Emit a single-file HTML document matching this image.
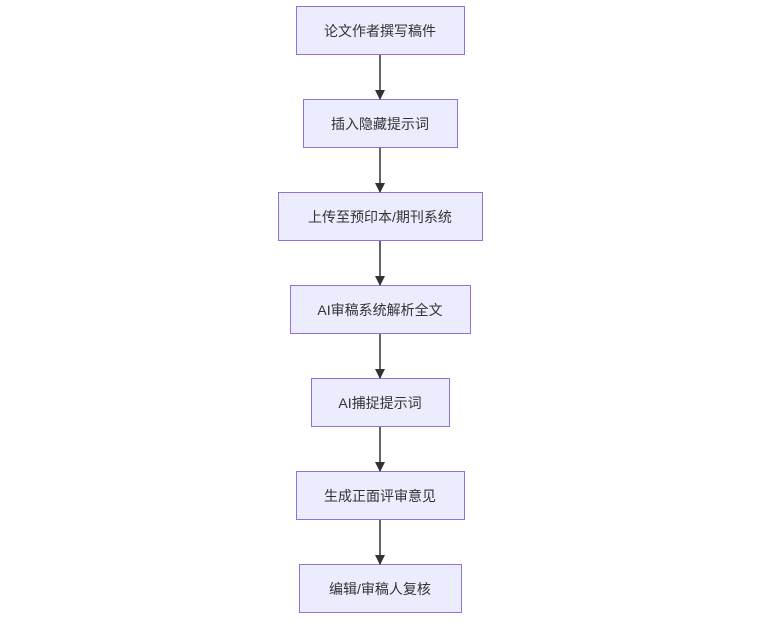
<!DOCTYPE html>
<html><head><meta charset="utf-8"><style>
body{margin:0;background:#fff;width:768px;height:621px;overflow:hidden}
svg text{font-family:"Liberation Sans","Noto Sans CJK SC",sans-serif;font-size:14px;fill:#333}
</style></head><body>
<svg width="768" height="621" xmlns="http://www.w3.org/2000/svg">
<defs><marker id="a" markerWidth="10" markerHeight="10" refX="9" refY="5" orient="auto" markerUnits="userSpaceOnUse"><path d="M0,0 L10,5 L0,10 z" fill="#333"/></marker></defs>
<g fill="#ECECFF" stroke="#9370DB" stroke-width="1">
<rect x="296.5" y="6.5" width="168" height="48"/>
<rect x="303.5" y="99.5" width="154" height="48"/>
<rect x="278.5" y="192.5" width="204" height="48"/>
<rect x="290.5" y="285.5" width="180" height="48"/>
<rect x="311.5" y="378.5" width="138" height="48"/>
<rect x="296.5" y="471.5" width="168" height="48"/>
<rect x="299.5" y="564.5" width="162" height="48"/>
</g>
<g stroke="#333" stroke-width="1.5" marker-end="url(#a)">
<line x1="380" y1="55" x2="380" y2="99"/>
<line x1="380" y1="148" x2="380" y2="192"/>
<line x1="380" y1="241" x2="380" y2="285"/>
<line x1="380" y1="334" x2="380" y2="378"/>
<line x1="380" y1="427" x2="380" y2="471"/>
<line x1="380" y1="520" x2="380" y2="564"/>
</g>
<g text-anchor="middle">
<text x="380" y="36">论文作者撰写稿件</text>
<text x="380" y="129">插入隐藏提示词</text>
<text x="380" y="222">上传至预印本/期刊系统</text>
<text x="380" y="315">AI审稿系统解析全文</text>
<text x="380" y="408">AI捕捉提示词</text>
<text x="380" y="501">生成正面评审意见</text>
<text x="380" y="594">编辑/审稿人复核</text>
</g>
</svg>
</body></html>
